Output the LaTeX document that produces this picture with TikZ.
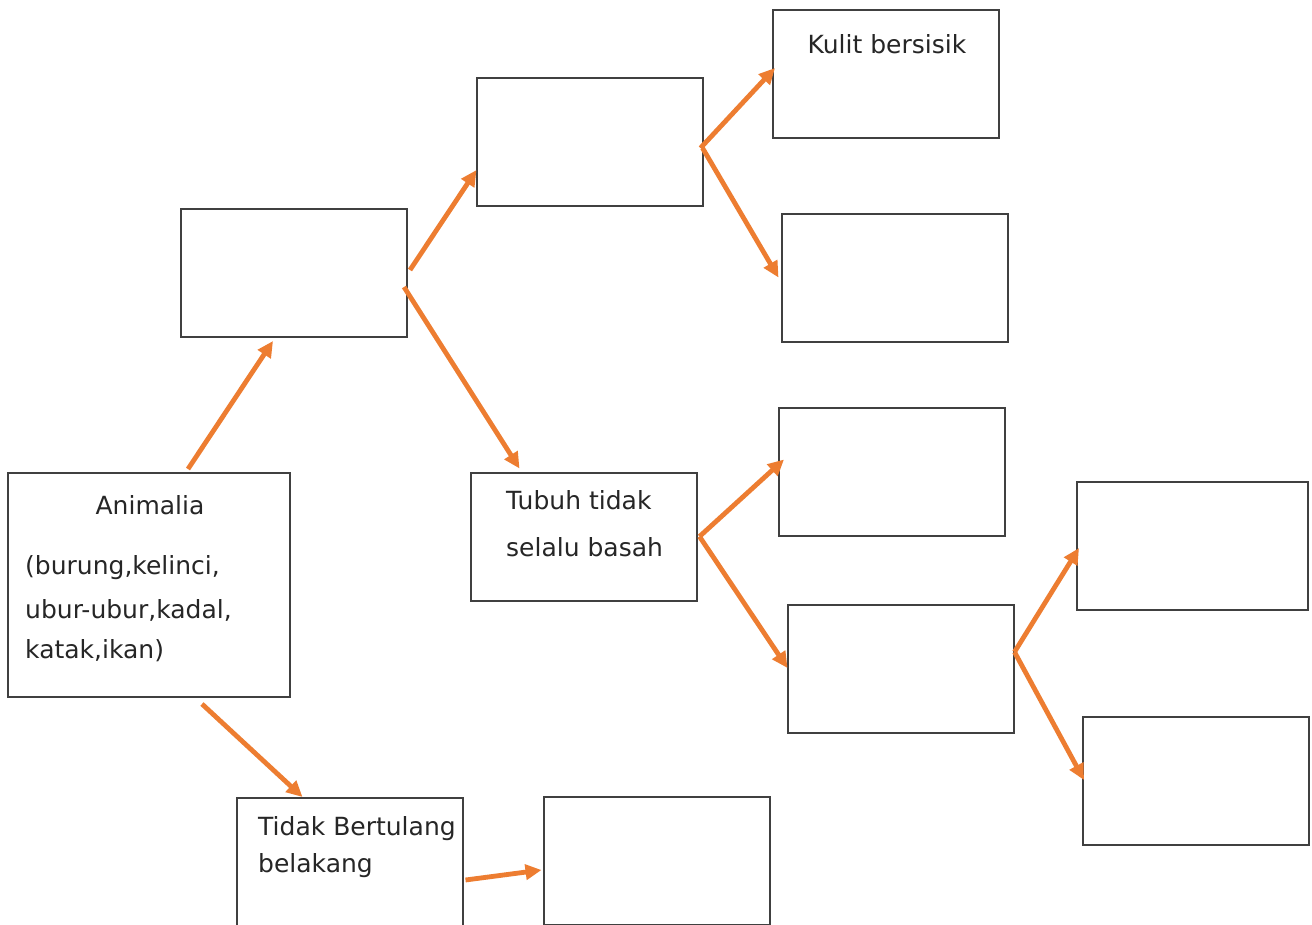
\documentclass[tikz,border=0pt]{standalone}
\usepackage{fontspec}
\setmainfont{DejaVu Sans}
\usetikzlibrary{calc,arrows.meta}
\definecolor{arr}{HTML}{ED7D31}
\definecolor{boxline}{HTML}{404040}
\tikzset{
  box/.style={draw=boxline, line width=2pt, rectangle, minimum width=#1, minimum height=128pt, inner sep=0pt, fill=white},
  box/.default=226pt,
  arrow/.style={draw=arr, line width=4.8pt, -{Triangle[length=16pt,width=15pt]}},
  txt/.style={font=\fontsize{25pt}{30pt}\selectfont, text=black!85, inner sep=0pt}
}
\begin{document}
\begin{tikzpicture}[x=1pt,y=-1pt]
\useasboundingbox (0,0) rectangle (1312,924);
\fill[white] (0,0) rectangle (1312,924);
% boxes
\node[box=282pt, minimum height=224pt] (A) at (149,585) {};
\node[box] (B) at (294,273) {};
\node[box] (C) at (589.5,142) {};
\node[box] (D) at (886,74) {};
\node[box] (E) at (894.5,277.5) {};
\node[box] (F) at (583.5,536.5) {};
\node[box] (G) at (892,471.5) {};
\node[box] (H) at (900.5,669) {};
\node[box=231pt] (I) at (1192.5,546) {};
\node[box] (J) at (1196,781) {};
\node[box] (K) at (349.5,862) {};
\node[box] (L) at (656.5,861) {};
% texts
\node[txt] (tA1) at (150,505) {Animalia};
\node[txt, anchor=west] (tA2) at (25,568) {(burung,kelinci,};
\node[txt, anchor=west] (tA3) at (25,610) {ubur-ubur,kadal,};
\node[txt, anchor=west] (tA4) at (25,651) {katak,ikan)};
\node[txt] (tD) at (887,44) {Kulit bersisik};
\node[txt, anchor=west] (tF1) at (506,500) {Tubuh tidak};
\node[txt, anchor=west] (tF2) at (506,547) {selalu basah};
\node[txt, anchor=west] (tK1) at (258,829) {Tidak Bertulang};
\node[txt, anchor=west] (tK2) at (258,866) {belakang};
% arrows
\draw[arrow] ($(A.north)+(39,-3)$) -- ($(B.south)+(-21,3)$);
\draw[arrow] ($(B.east)+(2,-3)$) -- ($(C.west)+(1,28)$);
\draw[arrow] ($(B.east)+(-4,14)$) -- ($(F.north)+(-64,-3)$);
\draw[arrow] ($(C.east)+(-3,6)$) -- ($(D.west)+(3,-6)$);
\draw[arrow] ($(C.east)+(-1,6)$) -- ($(E.west)+(-2,0)$);
\draw[arrow] ($(F.east)+(2,0)$) -- ($(G.west)+(6,-12)$);
\draw[arrow] ($(F.east)+(2,0)$) -- ($(H.west)+(1,-1)$);
\draw[arrow] ($(H.east)+(0,-17)$) -- ($(I.west)+(3,2)$);
\draw[arrow] ($(H.east)+(0,-17)$) -- ($(J.west)+(2,-1)$);
\draw[arrow] ($(A.south)+(53,6)$) -- ($(K.north)+(-47,0)$);
\draw[arrow] ($(K.east)+(2,18)$) -- ($(L.west)+(-1,9)$);
\end{tikzpicture}
\end{document}
